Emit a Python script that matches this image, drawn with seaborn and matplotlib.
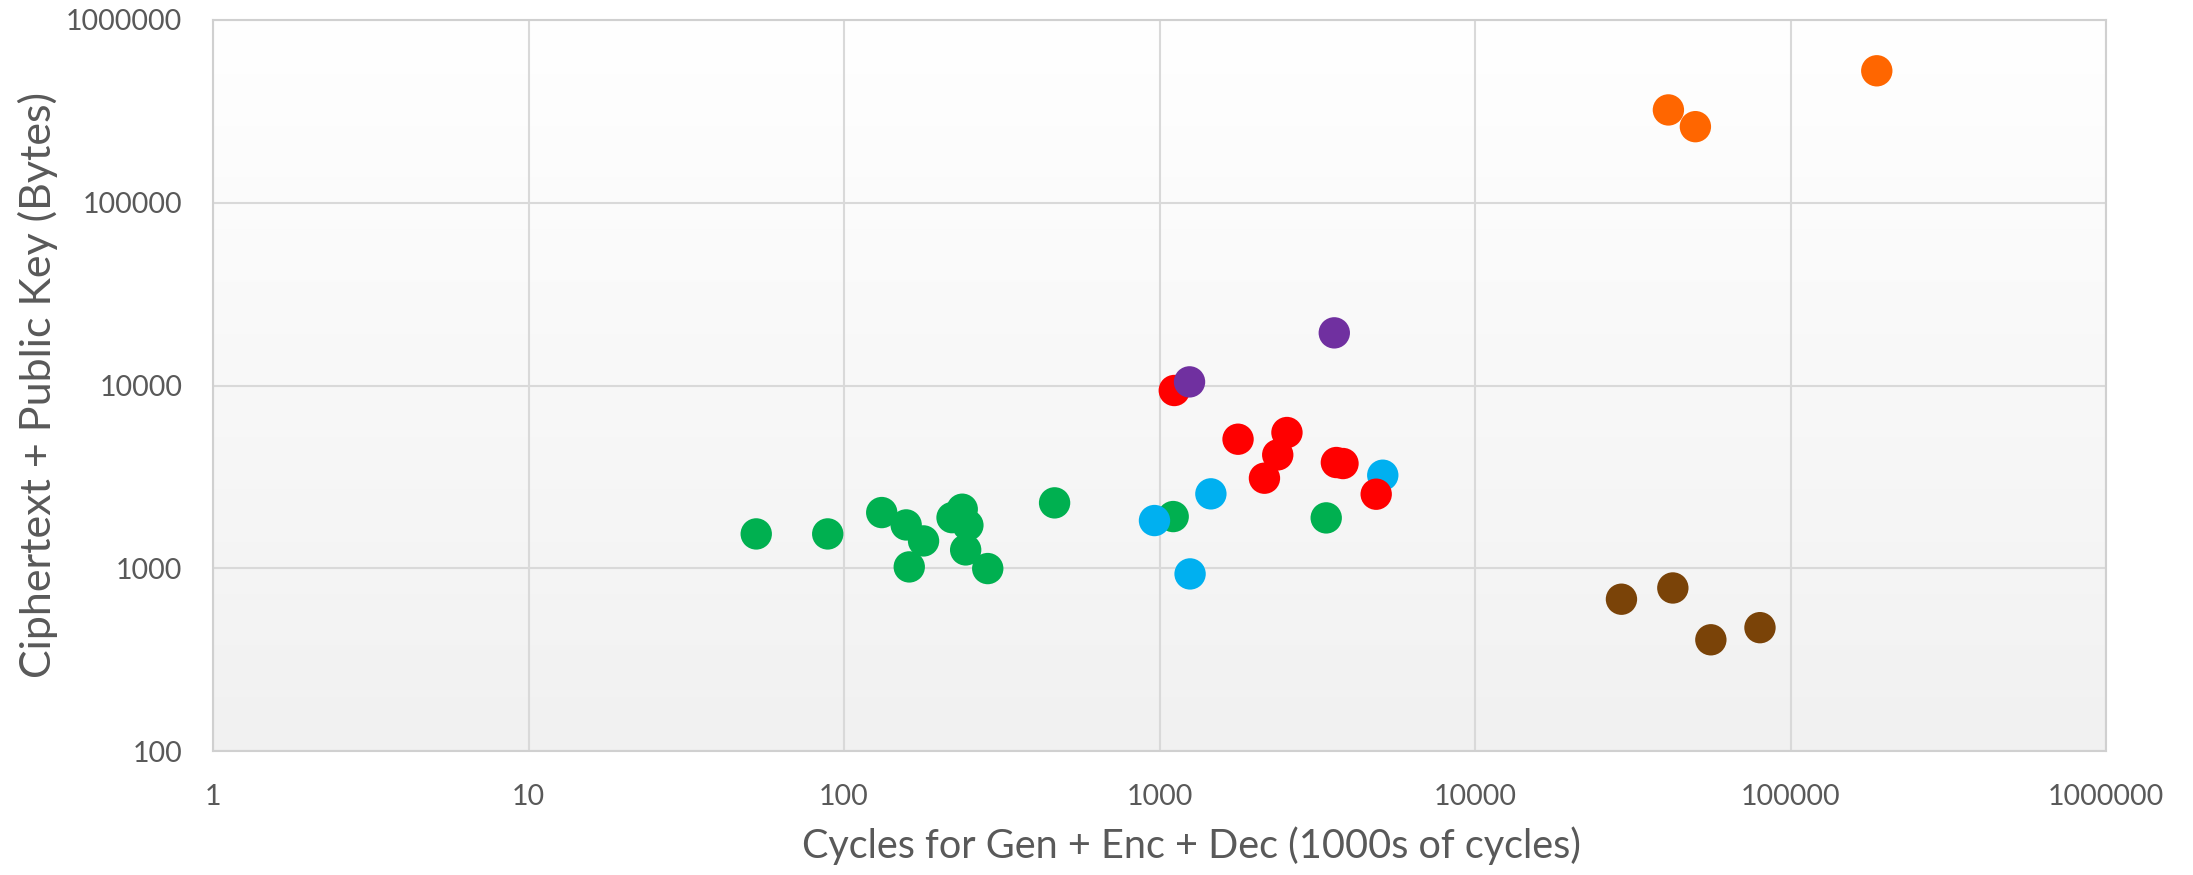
import numpy as np
import pandas as pd
import matplotlib
matplotlib.use("Agg")
import matplotlib.pyplot as plt
from matplotlib.colors import LinearSegmentedColormap
import seaborn as sns

# ---- data ----
green_x = [52.7, 88.8, 131.7, 157.4, 178.7, 161, 220, 237, 247, 243, 285.5, 465, 1105, 3376]
green_y = [1541, 1541, 2017, 1726, 1411, 1017, 1892, 2104, 1719, 1260, 996, 2279, 1918, 1886]
cyan_x = [964, 1455, 1250, 5101]
cyan_y = [1824, 2553, 931, 3229]
red_x = [1114, 1774, 2535, 2370, 2151, 3636, 3816, 4862]
red_y = [9389, 5082, 5529, 4173, 3110, 3789, 3741, 2542]
purple_x = [1245, 3581]
purple_y = [10466, 19410]
orange_x = [41020, 49950, 187700]
orange_y = [322000, 260800, 527300]
brown_x = [29120, 42370, 55920, 80030]
brown_y = [677, 780, 406, 473]

x_ticks = [1, 10, 100, 1000, 10000, 100000, 1000000]
y_ticks = [100, 1000, 10000, 100000, 1000000]
x_title = "Cycles for Gen + Enc + Dec (1000s of cycles)"
y_title = "Ciphertext + Public Key (Bytes)"

groups = {
    "green": (green_x, green_y, "#00B050"),
    "cyan": (cyan_x, cyan_y, "#00B0F0"),
    "red": (red_x, red_y, "#FF0000"),
    "purple": (purple_x, purple_y, "#7030A0"),
    "orange": (orange_x, orange_y, "#FF6600"),
    "brown": (brown_x, brown_y, "#7A4308"),
}

rows = []
for name, (xs, ys, _) in groups.items():
    for xv, yv in zip(xs, ys):
        rows.append({"x": xv, "y": yv, "group": name})
df = pd.DataFrame(rows)
palette = {k: v[2] for k, v in groups.items()}

sns.set_theme(style="white")
plt.rcParams["font.family"] = ["Lato", "DejaVu Sans"]

fig = plt.figure(figsize=(21.93, 8.75), dpi=100)
ax = fig.add_axes([213 / 2193, 1 - 751 / 875, (2106 - 213) / 2193, (751 - 20) / 875])

# gradient background: white at top, light grey at bottom
grad = np.linspace(0, 1, 256).reshape(-1, 1)
cmap = LinearSegmentedColormap.from_list("bg", ["#FFFFFF", "#F1F1F1"])
ax.imshow(grad, extent=[0, 1, 0, 1], transform=ax.transAxes, cmap=cmap,
          aspect="auto", zorder=0, origin="upper")

sns.scatterplot(data=df, x="x", y="y", hue="group", palette=palette,
                s=510, linewidth=0, legend=False, ax=ax, zorder=3)

ax.set_xscale("log")
ax.set_yscale("log")
ax.set_xlim(1, 1000000)
ax.set_ylim(100, 1000000)
ax.set_xticks(x_ticks)
ax.set_xticklabels([str(t) for t in x_ticks])
ax.set_yticks(y_ticks)
ax.set_yticklabels([str(t) for t in y_ticks])
ax.minorticks_off()
ax.grid(True, color="#D9D9D9", linewidth=1.5, zorder=1)
ax.set_axisbelow(True)
for sp in ax.spines.values():
    sp.set_color("#D0D0D0")
    sp.set_linewidth(1.5)
    sp.set_visible(True)

ax.tick_params(axis="both", length=0, labelsize=20.5, labelcolor="#595959")
ax.tick_params(axis="y", pad=22)
ax.tick_params(axis="x", pad=24)

ax.set_xlabel(x_title, fontsize=28.5, color="#595959")
ax.set_ylabel(y_title, fontsize=31, color="#595959")
ax.xaxis.set_label_coords((1191 - 213) / (2106 - 213), -(846 - 751) / (751 - 20), transform=ax.transAxes)
ax.xaxis.label.set_va("center")
ax.yaxis.set_label_coords(-(213 - 38) / (2106 - 213), 0.5, transform=ax.transAxes)
ax.yaxis.label.set_va("center")

fig.savefig("out.png", dpi=100, facecolor="white")
